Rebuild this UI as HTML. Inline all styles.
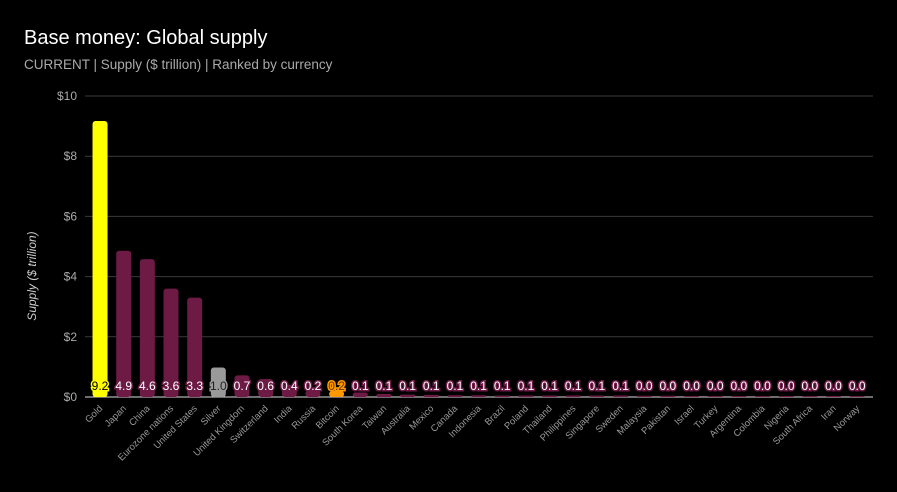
<!DOCTYPE html>
<html><head><meta charset="utf-8"><style>
body{margin:0;background:#000;width:897px;height:487px;overflow:hidden;font-family:"Liberation Sans",sans-serif}
</style></head><body>
<svg width="897" height="487" xmlns="http://www.w3.org/2000/svg">
<text x="24" y="44" fill="#fff" font-size="20">Base money: Global supply</text>
<text x="24" y="69" fill="#aaa" font-size="13.5">CURRENT | Supply ($ trillion) | Ranked by currency</text>
<text transform="translate(36,276) rotate(-90)" text-anchor="middle" fill="#ccc" font-size="12" font-style="italic">Supply ($ trillion)</text>
<g id="grid"></g><g id="bars"></g><g id="labels"></g>
</svg>
<script>
const categories=["Gold","Japan","China","Eurozone nations","United States","Silver","United Kingdom","Switzerland","India","Russia","Bitcoin","South Korea","Taiwan","Australia","Mexico","Canada","Indonesia","Brazil","Poland","Thailand","Philippines","Singapore","Sweden","Malaysia","Pakistan","Israel","Turkey","Argentina","Colombia","Nigeria","South Africa","Iran","Norway"];
const values=[9.17,4.86,4.58,3.6,3.3,0.98,0.72,0.6,0.4,0.22,0.2,0.15,0.1,0.08,0.07,0.06,0.06,0.05,0.05,0.05,0.05,0.05,0.05,0.04,0.04,0.03,0.03,0.03,0.02,0.02,0.02,0.02,0.02];
const yTicks=[0,2,4,6,8,10];
const tickLabels=["$0","$2","$4","$6","$8","$10"];
const ns="http://www.w3.org/2000/svg";
const x0=88.2,xEnd=869,x1=873,y0=397,yTop=96;
const y=v=>y0-(v/10)*(y0-yTop);
const band=(xEnd-x0)/categories.length;
const xc=i=>x0+band*(i+0.5);
function mk(t,a,p){const e=document.createElementNS(ns,t);for(const k in a)e.setAttribute(k,a[k]);p.appendChild(e);return e;}
const grid=document.getElementById('grid');
yTicks.forEach((t,i)=>{
 const l=mk('line',{x1:85,x2:x1,y1:y(t),y2:y(t),stroke:t===0?'#ddd':'#3a3a3a','stroke-width':1},grid);
 
 
 const tx=mk('text',{x:77,y:y(t)+4,'text-anchor':'end',fill:'#aaa','font-size':12},grid);
 tx.textContent=tickLabels[i];
 
 
});
const colorFor=c=>c==="Gold"?"#ffff00":c==="Silver"?"#9a9a9a":c==="Bitcoin"?"#ff9900":"#6d1a45";
const bars=document.getElementById('bars'),labels=document.getElementById('labels');
categories.forEach((c,i)=>{
 const v=values[i],w=15,h=Math.max(y0-y(v),1);
 const r=mk('rect',{x:xc(i)-w/2,y:y0-h,width:w,height:h,rx:Math.min(3,h/2),fill:colorFor(c)},bars);
 
 
 const col=colorFor(c);
 const vt=mk('text',{x:xc(i),y:390,'text-anchor':'middle','font-size':12,fill:(c==="Gold"?"#000":c==="Silver"?"#222":c==="Bitcoin"?"#6b3a00":"#fff"),stroke:col,'stroke-width':3,'paint-order':'stroke'},labels);
 vt.textContent=v.toFixed(1);
 
 
 const ct=mk('text',{transform:`translate(${xc(i)+3},${409}) rotate(-45)`,'text-anchor':'end',fill:'#999','font-size':9.5},labels);
 ct.textContent=c;
 
 
});
</script>
</body></html>
